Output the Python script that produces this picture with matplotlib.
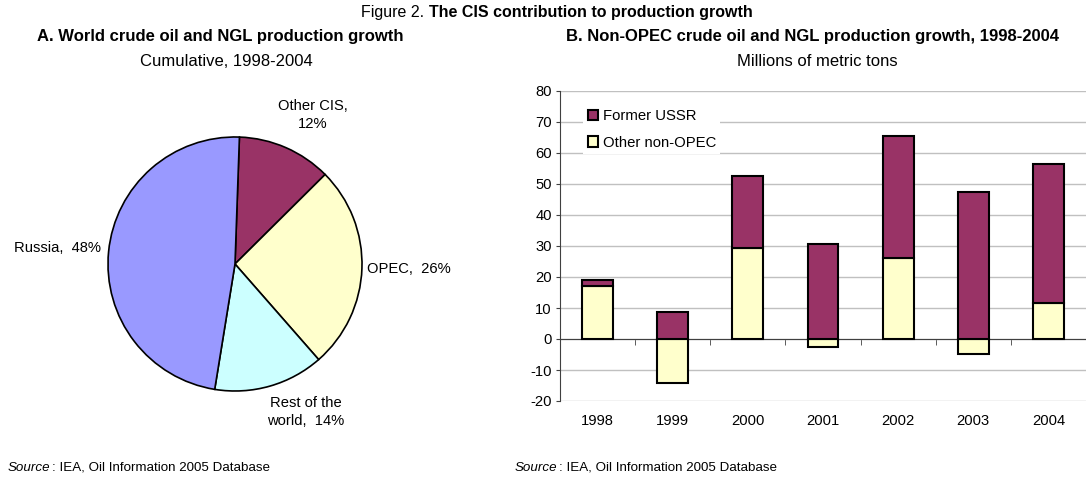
import matplotlib
matplotlib.use('Agg')
import matplotlib.pyplot as plt
import numpy as np

plt.rcParams['font.family'] = ['Liberation Sans', 'DejaVu Sans']
plt.rcParams['axes.unicode_minus'] = False

# Panel A: cumulative shares (%)
pie_labels = ['Other CIS,\n12%', 'OPEC,  26%', 'Rest of the\nworld,  14%', 'Russia,  48%']
pie_shares = [12, 26, 14, 48]
pie_colors = ['#993366', '#FFFFCC', '#CCFFFF', '#9999FF']

# Panel B: non-OPEC growth (Mt)
years = ['1998', '1999', '2000', '2001', '2002', '2003', '2004']
other_nonopec = [17.2, -14.3, 29.5, -2.5, 26.0, -4.7, 11.5]
former_ussr = [1.8, 8.6, 23.2, 30.5, 39.5, 47.5, 44.8]

W, H = 1086, 479
fig = plt.figure(figsize=(W / 100, H / 100), dpi=100)

# ---- titles
fig.text(429 / W, 1 - 13 / H, 'Figure 2. ', ha='right', va='center', fontsize=11.5)
fig.text(429 / W, 1 - 13 / H, 'The CIS contribution to production growth',
         ha='left', va='center', fontsize=11.5, fontweight='bold')
fig.text(220 / W, 1 - 37 / H, 'A. World crude oil and NGL production growth',
         ha='center', va='center', fontsize=12, fontweight='bold')
fig.text(226 / W, 1 - 61 / H, 'Cumulative, 1998-2004', ha='center', va='center', fontsize=12)
fig.text(812 / W, 1 - 37 / H, 'B. Non-OPEC crude oil and NGL production growth, 1998-2004',
         ha='center', va='center', fontsize=12, fontweight='bold')
fig.text(817 / W, 1 - 61 / H, 'Millions of metric tons', ha='center', va='center', fontsize=12)

# ---- pie
r = 127
cx, cy = 235, 264
half = 1.5 * r
ax1 = fig.add_axes([(cx - half) / W, 1 - (cy + half) / H, 2 * half / W, 2 * half / H])
ax1.pie(pie_shares, colors=pie_colors, startangle=88, counterclock=False,
        wedgeprops=dict(edgecolor='black', linewidth=1.2))
ax1.set_xlim(-1.5, 1.5)
ax1.set_ylim(-1.5, 1.5)
ax1.set_aspect('equal')
ax1.axis('off')

label_pos = [(0.614, 1.173, 'center'), (1.04, -0.04, 'left'),
             (0.56, -1.165, 'center'), (-1.055, 0.126, 'right')]
for lab, (x, y, ha) in zip(pie_labels, label_pos):
    ax1.text(x, y, lab, ha=ha, va='center', fontsize=10.6, linespacing=1.3)

# ---- stacked bars
ax2 = fig.add_axes([560 / W, 1 - 401 / H, (W - 560) / W, (401 - 91) / H])
x = np.arange(len(years))
other = np.array(other_nonopec)
ussr = np.array(former_ussr)
base = np.where(other > 0, other, 0)
ax2.bar(x, other, width=0.41, color='#FFFFCC', edgecolor='black', linewidth=1.5,
        label='Other non-OPEC', zorder=3)
ax2.bar(x, ussr, width=0.41, bottom=base, color='#993366', edgecolor='black',
        linewidth=1.5, label='Former USSR', zorder=3)

ax2.set_xlim(-0.5, len(years) - 0.5)
ax2.set_ylim(-20, 80)
ax2.set_yticks(np.arange(-20, 81, 10))
ax2.yaxis.grid(True, color='#C0C0C0', linewidth=1)
ax2.set_axisbelow(True)
for s in ['top', 'right']:
    ax2.spines[s].set_visible(False)
ax2.spines['bottom'].set_position(('data', 0))
ax2.spines['bottom'].set_color('#404040')
ax2.spines['left'].set_color('#404040')
ax2.set_xticks(x)
ax2.set_xticklabels(years)
ax2.set_xticks(x[:-1] + 0.5, minor=True)
ax2.tick_params(axis='x', which='major', length=0, pad=54, labelsize=10.6)
ax2.tick_params(axis='x', which='minor', length=4, direction='out', color='#404040')
ax2.tick_params(axis='y', length=3, color='#404040', labelsize=10.6, pad=3)

h, l = ax2.get_legend_handles_labels()
leg = ax2.legend(h[::-1], l[::-1], loc='upper left', bbox_to_anchor=(0.03, 0.98),
                 frameon=True, fancybox=False, edgecolor='none', facecolor='white',
                 framealpha=1, fontsize=10.7, handlelength=0.7, handleheight=0.7,
                 handletextpad=0.3, labelspacing=0.85, borderpad=0.3)

# ---- source notes
fig.canvas.draw()
rend = fig.canvas.get_renderer()
for sx in [8, 515]:
    t = fig.text(sx / W, 1 - 468 / H, 'Source', ha='left', va='center',
                 fontsize=9.6, fontstyle='italic')
    bb = t.get_window_extent(renderer=rend)
    fig.text((bb.x1 + 1) / W, 1 - 468 / H, ': IEA, Oil Information 2005 Database',
             ha='left', va='center', fontsize=9.6)

fig.savefig('out.png', dpi=100)
